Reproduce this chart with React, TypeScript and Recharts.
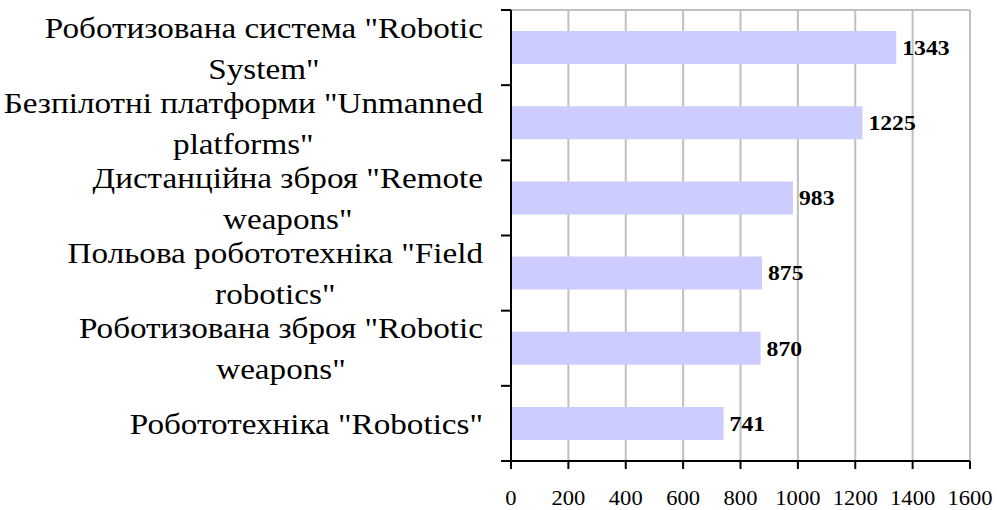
import React from 'react';
import {
  BarChart,
  Bar,
  XAxis,
  YAxis,
  CartesianGrid,
  LabelList,
} from 'recharts';

// Categories top to bottom, line breaks as in the source
const CATEGORIES = [
  'Роботизована система "Robotic\nSystem"',
  'Безпілотні платформи "Unmanned\nplatforms"',
  'Дистанційна зброя "Remote\nweapons"',
  'Польова робототехніка "Field\nrobotics"',
  'Роботизована зброя "Robotic\nweapons"',
  'Робототехніка "Robotics"',
];
const VALUES = [1343, 1225, 983, 875, 870, 741];
const X_TICKS = [0, 200, 400, 600, 800, 1000, 1200, 1400, 1600];

const data = CATEGORIES.map((name, i) => ({ name, value: VALUES[i] }));

const FONT = '"Liberation Serif", "Times New Roman", serif';
// the source picture is a little wider than tall, so text is stretched sideways
const SX = 1.127;
const SX_LABEL = 1.105;
const LABEL_SIZE = 30;
const LINE_H = 41;
const W = 997;
const H = 510;
const TOP = 10;
const RIGHT = 27;
const AXIS_H = 49;
const AXIS_W = 511;
const LABEL_RIGHT = 483;
const BAND = (H - TOP - AXIS_H) / CATEGORIES.length;

let ctx: CanvasRenderingContext2D | null = null;
const measure = (s: string) => {
  if (!ctx) ctx = document.createElement('canvas').getContext('2d');
  if (!ctx) return s.length * LABEL_SIZE * 0.45;
  ctx.font = `${LABEL_SIZE}px ${FONT}`;
  return ctx.measureText(s).width;
};

const CategoryTick = (props: any) => {
  const { y, payload, index } = props;
  const lines = String(payload.value).split('\n');
  const widest = Math.max(...lines.map(measure)) * SX_LABEL;
  const cx = LABEL_RIGHT - widest / 2;
  const firstY = y - ((lines.length - 1) * LINE_H) / 2;
  return (
    <g>
      <line x1={AXIS_W - 10} x2={AXIS_W} y1={y - BAND / 2} y2={y - BAND / 2} stroke="#000" strokeWidth={2} />
      {index === CATEGORIES.length - 1 && (
        <line x1={AXIS_W - 10} x2={AXIS_W} y1={y + BAND / 2} y2={y + BAND / 2} stroke="#000" strokeWidth={2} />
      )}
      <text
        transform={`translate(${cx} 0) scale(${SX_LABEL} 1)`}
        textAnchor="middle"
        style={{ fontFamily: FONT, fontSize: LABEL_SIZE, fill: '#000' }}
      >
        {lines.map((l, i) => (
          <tspan key={i} x={0} y={firstY + i * LINE_H} dy="0.35em">
            {l}
          </tspan>
        ))}
      </text>
    </g>
  );
};

const ValueTick = (props: any) => {
  const { x, y, payload } = props;
  return (
    <text
      transform={`translate(${x} ${y}) scale(${SX} 1)`}
      dy="0.71em"
      textAnchor="middle"
      style={{ fontFamily: FONT, fontSize: 20, fill: '#000' }}
    >
      {payload.value}
    </text>
  );
};

const BarValue = (props: any) => {
  const { x, y, width, height, value } = props;
  return (
    <text
      transform={`translate(${x + width + 6} ${y + height / 2}) scale(${SX} 1)`}
      dy="0.35em"
      textAnchor="start"
      style={{ fontFamily: FONT, fontSize: 21, fontWeight: 'bold', fill: '#000' }}
    >
      {value}
    </text>
  );
};

export default function App() {
  return (
    <div style={{ position: 'absolute', left: 0, top: 0, width: W, height: H, background: '#fff' }}>
      <BarChart
        width={W}
        height={H}
        layout="vertical"
        data={data}
        margin={{ top: TOP, right: RIGHT, bottom: 0, left: 0 }}
        barCategoryGap="28%"
      >
        <CartesianGrid stroke="#c0c0c0" strokeWidth={2} horizontalPoints={[TOP]} />
        <XAxis
          type="number"
          domain={[0, 1600]}
          ticks={X_TICKS}
          interval={0}
          height={AXIS_H}
          axisLine={{ stroke: '#000', strokeWidth: 2 }}
          tickLine={{ stroke: '#000', strokeWidth: 2 }}
          tickSize={8}
          tickMargin={22}
          tick={<ValueTick />}
        />
        <YAxis
          type="category"
          dataKey="name"
          width={AXIS_W}
          interval={0}
          axisLine={{ stroke: '#000', strokeWidth: 2 }}
          tickLine={false}
          tick={<CategoryTick />}
        />
        <Bar dataKey="value" fill="#ccccff" isAnimationActive={false}>
          <LabelList dataKey="value" content={<BarValue />} />
        </Bar>
      </BarChart>
    </div>
  );
}
